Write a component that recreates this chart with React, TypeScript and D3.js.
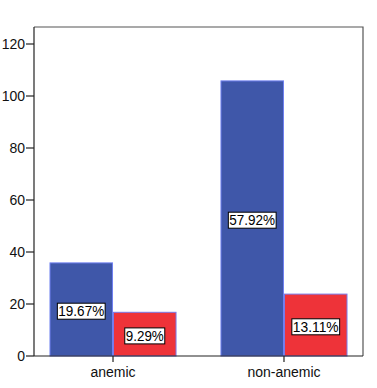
import React from "react";
import * as d3 from "d3";

const categories = ["anemic", "non-anemic"];
const series = ["s1", "s2"];
const seriesA = [36, 106];
const seriesB = [17, 24];
const labelsA = ["19.67%", "57.92%"];
const labelsB = ["9.29%", "13.11%"];
const yTicks = [0, 20, 40, 60, 80, 100, 120];
const colors = ["#3F57A9", "#EE3339"];
const strokes = ["#7080F0", "#7A7AE8"];

export default function App() {
  const W = 377, H = 388;
  const left = 34, right = 363, top = 27, bottom = 356;
  const y = d3.scaleLinear().domain([0, 120]).range([bottom, 44]);
  const x0 = d3.scaleBand<string>().domain(categories).range([left, right]).paddingInner(0.257).paddingOuter(0.0906);
  const x1 = d3.scaleBand<string>().domain(series).range([0, x0.bandwidth()]);
  const font = "Arial, 'Liberation Sans', sans-serif";
  const rows = categories.map((c, i) => [
    { c, s: "s1", v: seriesA[i], l: labelsA[i], k: 0 },
    { c, s: "s2", v: seriesB[i], l: labelsB[i], k: 1 },
  ]).flat();
  return (
    <svg width={W} height={H} style={{ position: "absolute", left: 0, top: 0, background: "#fff" }}>
      <rect x={0} y={0} width={W} height={H} fill="#fff" />
      <path d={`M${left},${top}H${right}V${bottom}`} fill="none" stroke="#555" strokeWidth={1.2} />
      {rows.map((r, i) => {
        const bx = (x0(r.c) as number) + (x1(r.s) as number);
        const bw = x1.bandwidth();
        const by = y(r.v);
        return (
          <rect key={i} x={bx + 0.5} y={by + 0.5} width={bw - 1} height={bottom - by - 0.5}
            fill={colors[r.k]} stroke={strokes[r.k]} strokeWidth={1} />
        );
      })}
      <line x1={left} x2={left} y1={top} y2={bottom} stroke="#222" strokeWidth={1.2} />
      <line x1={left} x2={right} y1={bottom} y2={bottom} stroke="#222" strokeWidth={1.2} />
      {yTicks.map((t) => (
        <g key={t}>
          <line x1={left - 8} x2={left} y1={y(t)} y2={y(t)} stroke="#222" strokeWidth={1.2} />
          <text x={left - 9} y={y(t)} dy="0.35em" textAnchor="end" fontFamily={font} fontSize={14} fill="#111">{t}</text>
        </g>
      ))}
      {categories.map((c) => {
        const cx = (x0(c) as number) + x0.bandwidth() / 2;
        return (
          <g key={c}>
            <line x1={cx} x2={cx} y1={bottom} y2={bottom + 6} stroke="#222" strokeWidth={1.2} />
            <text x={cx} y={bottom + 21} textAnchor="middle" fontFamily={font} fontSize={14} fill="#111">{c}</text>
          </g>
        );
      })}
      {rows.map((r, i) => {
        const cx = (x0(r.c) as number) + (x1(r.s) as number) + x1.bandwidth() / 2;
        const cy = (y(r.v) + bottom) / 2 + 2;
        const tw = r.l.length * 7.8 + 1;
        return (
          <g key={"l" + i}>
            <rect x={cx - tw / 2} y={cy - 8} width={tw} height={16} fill="#fff" stroke="#000" strokeWidth={1} />
            <text x={cx} y={cy} dy="0.36em" textAnchor="middle" fontFamily={font} fontSize={14} fill="#000" textLength={tw - 2} lengthAdjust="spacingAndGlyphs">{r.l}</text>
          </g>
        );
      })}
    </svg>
  );
}
